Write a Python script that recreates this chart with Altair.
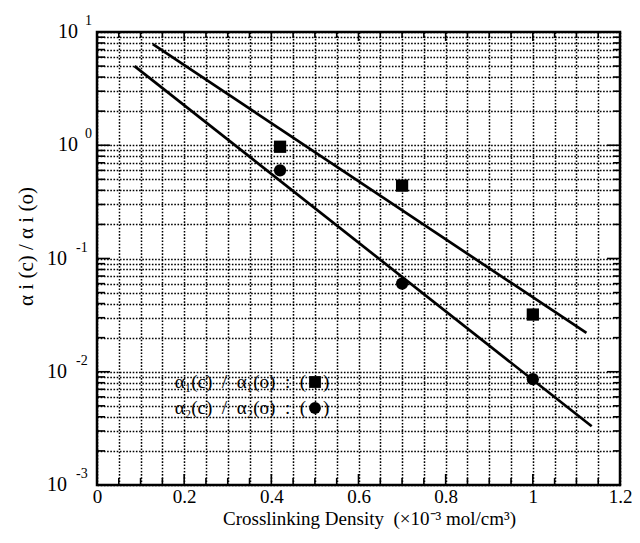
import altair as alt
import pandas as pd

# ---------------- values ----------------
sq_x = [0.42, 0.70, 1.00]
sq_y = [0.97, 0.44, 0.032]
ci_x = [0.42, 0.70, 1.00]
ci_y = [0.60, 0.060, 0.0086]

up_x = [0.128, 1.123]
up_y = [7.8, 0.022]
lo_x = [0.086, 1.135]
lo_y = [5.0, 0.0033]

x_grid = [0, 0.05, 0.1, 0.15, 0.2, 0.25, 0.3, 0.35, 0.4, 0.45, 0.5, 0.55, 0.6,
          0.65, 0.7, 0.75, 0.8, 0.85, 0.9, 0.95, 1.0, 1.05, 1.1, 1.15, 1.2]
x_major = [0, 0.2, 0.4, 0.6, 0.8, 1.0, 1.2]
x_minor = [v for v in x_grid if v not in x_major]

y_grid = [0.001, 0.002, 0.003, 0.004, 0.005, 0.006, 0.007, 0.008, 0.009,
          0.01, 0.02, 0.03, 0.04, 0.05, 0.06, 0.07, 0.08, 0.09,
          0.1, 0.2, 0.3, 0.4, 0.5, 0.6, 0.7, 0.8, 0.9,
          1, 2, 3, 4, 5, 6, 7, 8, 9, 10]
y_decades = [10, 1, 0.1, 0.01, 0.001]
y_exponents = ["1", "0", "-1", "-2", "-3"]
y_minor = [v for v in y_grid if v not in y_decades]

SP = "\u2002"
legend_text = [
    "\u03b1\u2081(c)" + SP + "/" + SP + "\u03b1\u2081(o)" + SP + ":" + SP + "(",
    "\u03b1\u2082(c)" + SP + "/" + SP + "\u03b1\u2082(o)" + SP + ":" + SP + "(",
]

x_title = "Crosslinking Density\u00a0\u00a0(\u00d710\u207b\u00b3 mol/cm\u00b3)"
y_title = "\u03b1 i (c) / \u03b1 i (o)"

# ---------------- styling ----------------
W, H = 523, 453
FONT = "Liberation Serif"
xs = alt.Scale(domain=[0, 1.2], nice=False, zero=False)
ys = alt.Scale(type="log", domain=[0.001, 10], nice=False)

x_axis = alt.Axis(
    values=x_grid, grid=True, gridColor="black", gridDash=[1.6, 1.6], gridWidth=1.5,
    gridOpacity=1, ticks=False, domain=False,
    labelExpr="abs(datum.value*5 - round(datum.value*5)) < 0.001 ? format(datum.value, '~g') : ''",
    labelFont=FONT, labelFontSize=19, labelColor="black", labelPadding=2,
    labelFlush=False, labelOverlap=False,
    title=x_title, titleFont=FONT, titleFontSize=19, titleFontWeight="normal",
    titleColor="black", titleX=272, titleY=39, titleBaseline="alphabetic",
)
y_axis = alt.Axis(
    values=y_grid, grid=True, gridColor="black", gridDash=[1.6, 1.6], gridWidth=1.5,
    gridOpacity=1, ticks=False, domain=False, labels=False,
    title=y_title, titleFont=FONT, titleFontSize=21, titleFontWeight="normal",
    titleColor="black", titleX=-71, titleY=214, titleAngle=-90,
    titleAlign="center", titleBaseline="middle",
)


def X(field):
    return alt.X(field, scale=xs, axis=x_axis)


def Y(field):
    return alt.Y(field, scale=ys, axis=y_axis)


pts_sq = pd.DataFrame({"x": sq_x, "y": sq_y})
pts_ci = pd.DataFrame({"x": ci_x, "y": ci_y})
fit = pd.DataFrame({
    "x": up_x + lo_x,
    "y": up_y + lo_y,
    "s": ["upper"] * len(up_x) + ["lower"] * len(lo_x),
})

lines = alt.Chart(fit).mark_line(color="black", strokeWidth=2.7).encode(
    x=X("x:Q"), y=Y("y:Q"), detail="s:N",
)
squares = alt.Chart(pts_sq).mark_point(shape="square", filled=True, color="black",
                                       opacity=1, size=150).encode(x=X("x:Q"), y=Y("y:Q"))
circles = alt.Chart(pts_ci).mark_point(shape="circle", filled=True, color="black",
                                       opacity=1, size=150).encode(x=X("x:Q"), y=Y("y:Q"))


# inward ticks
def xticks(vals, length, top):
    d = pd.DataFrame({"x": vals})
    yy, yy2 = (0, length) if top else (H, H - length)
    return alt.Chart(d).mark_rule(color="black", strokeWidth=1.6).encode(
        x=X("x:Q"), y=alt.value(yy), y2=alt.value(yy2),
    )


def yticks(vals, length, right):
    d = pd.DataFrame({"y": vals})
    xx, xx2 = (W, W - length) if right else (0, length)
    return alt.Chart(d).mark_rule(color="black", strokeWidth=1.6).encode(
        y=Y("y:Q"), x=alt.value(xx), x2=alt.value(xx2),
    )


tick_layers = [
    xticks(x_major, 11, False), xticks(x_minor, 7, False),
    xticks(x_major, 9, True), xticks(x_minor, 6, True),
    yticks(y_decades, 13, False), yticks(y_minor, 8, False),
    yticks(y_decades, 13, True), yticks(y_minor, 7, True),
]

# y tick labels: "10" with raised exponent
dec = pd.DataFrame({"y": y_decades, "e": y_exponents})
dec["neg"] = dec["e"].str.startswith("-")
lab_layers = []
for neg, x10, xe in [(False, -19, -12), (True, -30, -21)]:
    sub = dec[dec["neg"] == neg]
    lab_layers.append(alt.Chart(sub).mark_text(
        font=FONT, fontSize=20, align="right", baseline="middle", color="black"
    ).encode(y=Y("y:Q"), x=alt.value(x10), text=alt.value("10")))
    lab_layers.append(alt.Chart(sub).mark_text(
        font=FONT, fontSize=14, align="left", baseline="middle", color="black", dy=-11
    ).encode(y=Y("y:Q"), x=alt.value(xe), text="e:N"))

# legend inside the plot
leg_layers = []
for i, (txt, shp) in enumerate(zip(legend_text, ["square", "circle"])):
    yy = 350 + i * 26
    dd = pd.DataFrame({"t": [txt]})
    leg_layers.append(alt.Chart(dd).mark_text(
        font=FONT, fontSize=19, align="right", baseline="middle", color="black"
    ).encode(x=alt.value(209), y=alt.value(yy), text="t:N"))
    leg_layers.append(alt.Chart(dd).mark_point(
        shape=shp, filled=True, color="black", opacity=1, size=140
    ).encode(x=alt.value(218), y=alt.value(yy)))
    leg_layers.append(alt.Chart(dd).mark_text(
        font=FONT, fontSize=19, align="left", baseline="middle", color="black"
    ).encode(x=alt.value(226), y=alt.value(yy), text=alt.value(")")))

chart = alt.layer(
    *tick_layers, lines, squares, circles, *lab_layers, *leg_layers
).properties(
    width=W, height=H,
    autosize=alt.AutoSizeParams(type="none"),
    padding={"left": 89, "top": 24, "right": 12, "bottom": 46},
    background="white",
).configure_view(stroke="black", strokeWidth=2.5)

chart.save("out.html", embed_options={"renderer": "svg", "actions": False})
